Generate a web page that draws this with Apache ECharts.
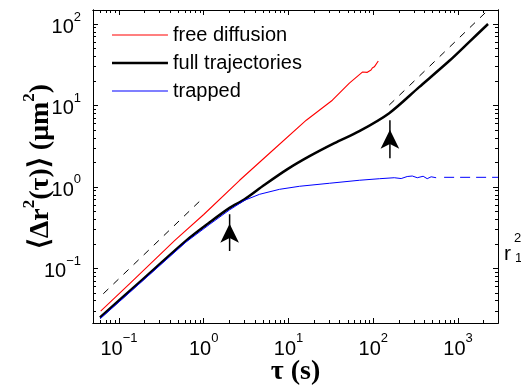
<!DOCTYPE html>
<html><head><meta charset="utf-8">
<script src="https://cdn.jsdelivr.net/npm/echarts@6/dist/echarts.min.js"></script>
<style>html,body{margin:0;padding:0;background:#fff}#c{width:521px;height:390px}</style>
</head><body><div id="c"></div>
<script>
// ---- data (tau in s, MSD in um^2) ----
const tauFree = [0.0609, 0.135, 0.456, 1.0, 2.65, 5.97, 16.2, 32.9, 52.2, 74.3, 85, 94, 97.3, 102.8, 114.5];
const msdFree = [0.0298, 0.0652, 0.220, 0.458, 1.205, 2.59, 6.59, 11.6, 18.8, 25.7, 25.5, 27.2, 28.8, 29.8, 35.1];

const tauFull = [0.0598, 0.1767, 0.625, 1.177, 2.02, 3.03, 5.22, 9.73, 17.7, 34.8, 68.4, 154, 347, 783, 1347, 2254];
const msdFull = [0.0249, 0.0681, 0.220, 0.367, 0.552, 0.703, 1.06, 1.65, 2.38, 3.44, 4.83, 8.04, 16.8, 35.1, 60, 100];

const tauTrap = [0.0598, 0.1767, 0.625, 1.177, 2.02, 3.03, 4.56, 7.83, 13.5, 30.3, 68.4, 117.7, 176.6, 213, 251, 288, 330, 387, 432, 481, 551];
const msdTrap = [0.0240, 0.0655, 0.212, 0.347, 0.522, 0.684, 0.811, 0.933, 1.017, 1.107, 1.205, 1.259, 1.295, 1.265, 1.34, 1.36, 1.295, 1.35, 1.26, 1.33, 1.295];

const tauPlateau = [684, 2955];
const msdPlateau = [1.31, 1.31];

const tauRefShort = [0.0654, 1.0];
const msdRefShort = [0.0487, 0.745];
const tauRefLong = [154, 2400];
const msdRefLong = [10.1, 157.7];

const arrowTau = [2.02, 157];
const arrowFrom = [0.163, 2.25];
const arrowTo = [0.46, 6.6];

const xTicks = [0.1, 1, 10, 100, 1000];
const yTicks = [0.1, 1, 10, 100];
const X_MIN = 0.04944, X_MAX = 2955, Y_MIN = 0.0213, Y_MAX = 148.6;

function zip(a, b) { return a.map((v, i) => [v, b[i]]); }
function minors(lo, hi) {
  const out = [];
  for (let e = -3; e <= 4; e++) for (let k = 2; k <= 9; k++) {
    const v = +(k * Math.pow(10, e)).toPrecision(3);
    if (v > lo && v < hi) out.push(v);
  }
  return out;
}
const SANS = 'Liberation Sans, Arial, sans-serif';
const SERIF = 'Liberation Serif, Times New Roman, serif';
function sup(v) {
  const e = Math.round(Math.log10(v));
  return '{b|10}{s|' + (e < 0 ? '\u2212' + (-e) : e) + '}';
}
const richLab = {
  b: { fontSize: 20, fontFamily: SANS, color: '#000', padding: [7, 0, 0, 0] },
  s: { fontSize: 13, fontFamily: SANS, color: '#000', verticalAlign: 'top' }
};
function axis(kind, pos, ticks, major, showLabel, mn, mx) {
  return {
    type: 'log', position: pos, min: mn, max: mx, logBase: 10,
    nameMoveOverlap: false,
    axisLine: { show: true, lineStyle: { color: '#000', width: 1 } },
    axisTick: { show: true, inside: true, length: major ? 5 : 3, customValues: ticks, lineStyle: { color: '#000', width: 1 } },
    axisLabel: { show: showLabel, customValues: ticks, formatter: sup, rich: richLab, margin: kind === 'x' ? 9 : 12 },
    splitLine: { show: false }, minorTick: { show: false }, minorSplitLine: { show: false }
  };
}
// legend line icon: a stripe of given thickness inside a 56x14 box
function stripe(w) {
  const a = (7 - w / 2).toFixed(2), b = (7 + w / 2).toFixed(2);
  return 'path://M0 0H0.01V0.01H0Z M0 14H0.01V14.01H0Z M0 ' + a + 'H56V' + b + 'H0Z';
}
const chart = echarts.init(document.getElementById('c'), null, { renderer: 'canvas' });
const xA = [
  axis('x', 'bottom', xTicks, true, true, X_MIN, X_MAX),
  axis('x', 'bottom', minors(X_MIN, X_MAX), false, false, X_MIN, X_MAX),
  axis('x', 'top', xTicks, true, false, X_MIN, X_MAX),
  axis('x', 'top', minors(X_MIN, X_MAX), false, false, X_MIN, X_MAX)
];
xA[0].name = '\u03c4 (s)';
xA[0].nameLocation = 'middle';
xA[0].nameGap = 35;
xA[0].nameTextStyle = { fontFamily: SERIF, fontWeight: 'bold', fontSize: 28, color: '#000' };
const yA = [
  axis('y', 'left', yTicks, true, true, Y_MIN, Y_MAX),
  axis('y', 'left', minors(Y_MIN, Y_MAX), false, false, Y_MIN, Y_MAX),
  axis('y', 'right', yTicks, true, false, Y_MIN, Y_MAX),
  axis('y', 'right', minors(Y_MIN, Y_MAX), false, false, Y_MIN, Y_MAX)
];
yA[0].name = '{a|\u27e8\u0394r}{s|2}{a|(\u03c4)\u27e9 (\u03bcm}{s|2}{a|)}';
yA[0].nameLocation = 'middle';
yA[0].nameGap = 38;
yA[0].nameRotate = 90;
yA[0].nameTextStyle = {
  fontFamily: SERIF, fontWeight: 'bold', fontSize: 28, color: '#000',
  rich: {
    a: { fontFamily: SERIF, fontWeight: 'bold', fontSize: 28, color: '#000', padding: [6, 0, 0, 0] },
    s: { fontFamily: SERIF, fontWeight: 'bold', fontSize: 17, color: '#000', verticalAlign: 'top' }
  }
};

const series = [
  { type: 'line', data: zip(tauPlateau, msdPlateau), symbol: 'none', lineStyle: { color: '#0000ff', width: 1, type: [10, 6] }, silent: true },
  { type: 'line', data: zip(tauRefShort, msdRefShort), symbol: 'none', lineStyle: { color: '#000', width: 1, type: [7, 7] }, silent: true },
  { type: 'line', data: zip(tauRefLong, msdRefLong), symbol: 'none', lineStyle: { color: '#000', width: 1, type: [7, 7] }, silent: true },
  { name: 'free diffusion', type: 'line', data: zip(tauFree, msdFree), symbol: 'none', lineStyle: { color: '#ff0000', width: 1.1 }, itemStyle: { color: '#ff0000' } },
  { name: 'full trajectories', type: 'line', data: zip(tauFull, msdFull), symbol: 'none', smooth: 0.3, lineStyle: { color: '#000', width: 2.5 }, itemStyle: { color: '#000' } },
  { name: 'trapped', type: 'line', data: zip(tauTrap, msdTrap), symbol: 'none', lineStyle: { color: '#0000ff', width: 1 }, itemStyle: { color: '#0000ff' } }
];
arrowTau.forEach((t, i) => {
  series.push({ type: 'line', data: [[t, arrowFrom[i]], [t, arrowTo[i]]], symbol: 'none', lineStyle: { color: '#000', width: 1.5 }, silent: true });
  series.push({ type: 'scatter', data: [[t, arrowTo[i]]], symbol: 'arrow', symbolSize: [14, 19], symbolOffset: [0, 9.5], itemStyle: { color: '#000', opacity: 1 }, silent: true });
});

chart.setOption({
  animation: false,
  backgroundColor: '#fff',
  grid: { left: 93, right: 23, top: 10, bottom: 67, containLabel: false, outerBoundsMode: 'none' },
  xAxis: xA,
  yAxis: yA,
  legend: {
    data: [
      { name: 'free diffusion', icon: stripe(1) },
      { name: 'full trajectories', icon: stripe(2.6) },
      { name: 'trapped', icon: stripe(1) }
    ],
    orient: 'vertical', left: 112, top: 25, itemWidth: 56, itemHeight: 14, itemGap: 8, padding: 0,
    selectedMode: false,
    textStyle: { fontSize: 20, fontFamily: SANS, color: '#000' }
  },
  graphic: [
    { type: 'text', left: 504, top: 244, style: { text: 'r', font: '21px ' + SANS, fill: '#000' } },
    { type: 'text', left: 514, top: 232, style: { text: '2', font: '13px ' + SANS, fill: '#000' } },
    { type: 'text', left: 515, top: 252, style: { text: '1', font: '13px ' + SANS, fill: '#000' } }
  ],
  series: series
});
</script></body></html>
